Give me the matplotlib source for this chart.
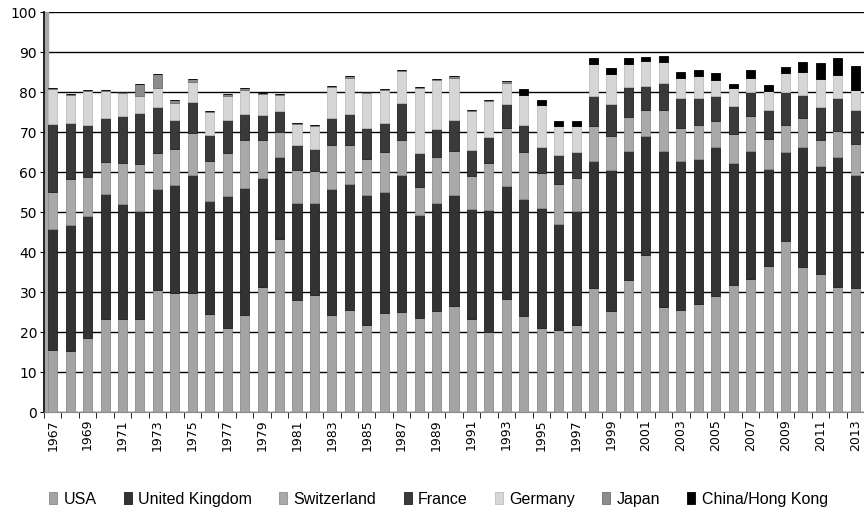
import numpy as np
import matplotlib.pyplot as plt

years = np.arange(1967, 2014)

usa = [15.5, 15.3, 18.6, 23.2, 23.3, 23.2, 30.4, 29.8, 29.8, 24.4,
       21.1, 24.3, 31.3, 43.2, 27.9, 29.2, 24.3, 25.5, 21.8, 24.8,
       25.0, 23.5, 25.3, 26.5, 23.3, 20.0, 28.3, 24.0, 20.9, 20.4,
       21.8, 31.0, 25.3, 33.0, 39.2, 26.2, 25.6, 27.0, 28.9, 31.8,
       33.3, 36.6, 42.7, 36.3, 34.5, 31.3, 31.0]
uk = [30.3, 31.5, 30.4, 31.4, 28.6, 27.1, 25.3, 26.9, 29.4, 28.3,
      32.9, 31.7, 27.1, 20.6, 24.4, 23.1, 31.5, 31.4, 32.5, 30.2,
      34.2, 25.7, 27.0, 27.8, 27.4, 30.5, 28.2, 29.2, 30.2, 26.5,
      28.5, 31.8, 35.2, 32.2, 29.8, 39.1, 37.2, 36.3, 37.3, 30.5,
      32.0, 24.2, 22.3, 29.9, 26.9, 32.4, 28.3]
switzerland = [9.2, 11.5, 9.8, 8.0, 10.4, 11.6, 9.0, 9.1, 10.6, 10.1,
               10.7, 11.9, 9.5, 6.3, 8.2, 8.0, 10.9, 9.8, 9.0, 10.0,
               8.8, 7.1, 11.5, 11.0, 8.3, 11.7, 14.4, 11.9, 8.7, 10.2,
               8.3, 8.8, 8.5, 8.6, 6.4, 10.3, 8.2, 8.5, 6.6, 7.2,
               8.8, 7.5, 6.8, 7.3, 6.7, 6.5, 7.7]
france = [17.0, 14.0, 12.9, 10.8, 11.7, 12.9, 11.6, 7.2, 7.7, 6.4,
          8.2, 6.5, 6.4, 5.2, 6.2, 5.5, 6.9, 7.9, 7.8, 7.3,
          9.3, 8.5, 7.0, 7.6, 6.5, 6.6, 6.2, 6.7, 6.5, 7.1,
          6.4, 7.4, 7.9, 7.4, 6.1, 6.7, 7.5, 6.7, 6.1, 6.9,
          5.9, 7.3, 8.2, 5.8, 8.1, 8.3, 8.6]
germany = [8.8, 6.9, 8.6, 6.9, 5.7, 4.2, 4.8, 4.2, 5.0, 5.8,
           6.1, 6.1, 5.1, 4.0, 5.4, 5.7, 7.7, 9.0, 8.7, 8.2,
           8.0, 16.3, 12.2, 10.7, 9.8, 9.0, 5.2, 7.5, 10.5, 7.3,
           6.5, 8.0, 7.6, 5.8, 6.3, 5.2, 5.0, 5.4, 4.2, 4.6,
           3.5, 4.6, 4.8, 5.7, 7.1, 5.8, 5.0]
japan = [0.2, 0.2, 0.3, 0.3, 0.4, 3.0, 3.5, 0.8, 0.8, 0.3,
         0.4, 0.4, 0.3, 0.3, 0.2, 0.2, 0.3, 0.3, 0.3, 0.2,
         0.2, 0.2, 0.3, 0.3, 0.3, 0.3, 0.5, 0, 0, 0,
         0, 0, 0, 0, 0, 0, 0, 0, 0, 0,
         0, 0, 0, 0, 0, 0, 0]
china = [0] * 27 + [1.5, 1.3, 1.3, 1.3, 1.4, 1.5, 1.5, 1.0, 1.5,
                    1.4, 1.5, 1.6, 1.0, 2.0, 1.6, 1.5, 2.6, 4.0, 4.1, 6.0]

names = ['USA', 'United Kingdom', 'Switzerland', 'France', 'Germany', 'Japan', 'China/Hong Kong']
series = [usa, uk, switzerland, france, germany, japan, china]
colors = ['#a4a4a4', '#333333', '#a9a9a9', '#3a3a3a', '#d6d6d6', '#8c8c8c', '#000000']
edges = ['#8a8a8a', '#1e1e1e', '#8e8e8e', '#222222', '#bdbdbd', '#707070', '#000000']

fig = plt.figure(figsize=(8.64, 5.12), dpi=100)
ax = fig.add_axes([44 / 864, 100 / 512, 820 / 864, 400 / 512])

bottom = np.zeros(len(years))
for name, vals, c, ec in zip(names, series, colors, edges):
    vals = np.array(vals, dtype=float)
    ax.bar(years, vals, width=0.52, bottom=bottom, color=c, edgecolor=ec,
           linewidth=0.6, label=name, zorder=3)
    bottom += vals

# side wall on the left (3d look of the original)
ax.axvspan(1966.543, 1966.75, color='#a8a8a8', zorder=2)

ax.set_xlim(1966.543, 2013.43)
ax.set_ylim(0, 100)
ax.set_yticks(np.arange(0, 101, 10))
ax.yaxis.grid(True, color='black', linewidth=1.0, zorder=1)
ax.tick_params(axis='y', direction='inout', length=6, labelsize=10, pad=2)

ax.set_xticks(years[::2])
ax.set_xticklabels([str(y) for y in years[::2]], rotation=90)
ax.set_xticks(np.arange(1966.5, 2014, 1), minor=True)
ax.tick_params(axis='x', which='major', length=0, labelsize=9, pad=5)
ax.tick_params(axis='x', which='minor', direction='out', length=4)

for s in ['top', 'right']:
    ax.spines[s].set_visible(False)
ax.spines['left'].set_linewidth(1.2)
ax.spines['bottom'].set_color('#888888')

fig.legend(loc='lower center', bbox_to_anchor=(0.5075, -0.018), ncol=7, frameon=False,
           handlelength=0.5, handleheight=0.8, handletextpad=0.4, columnspacing=1.7,
           prop={'family': 'Liberation Sans', 'size': 11.5})

fig.savefig('out.png', dpi=100)
